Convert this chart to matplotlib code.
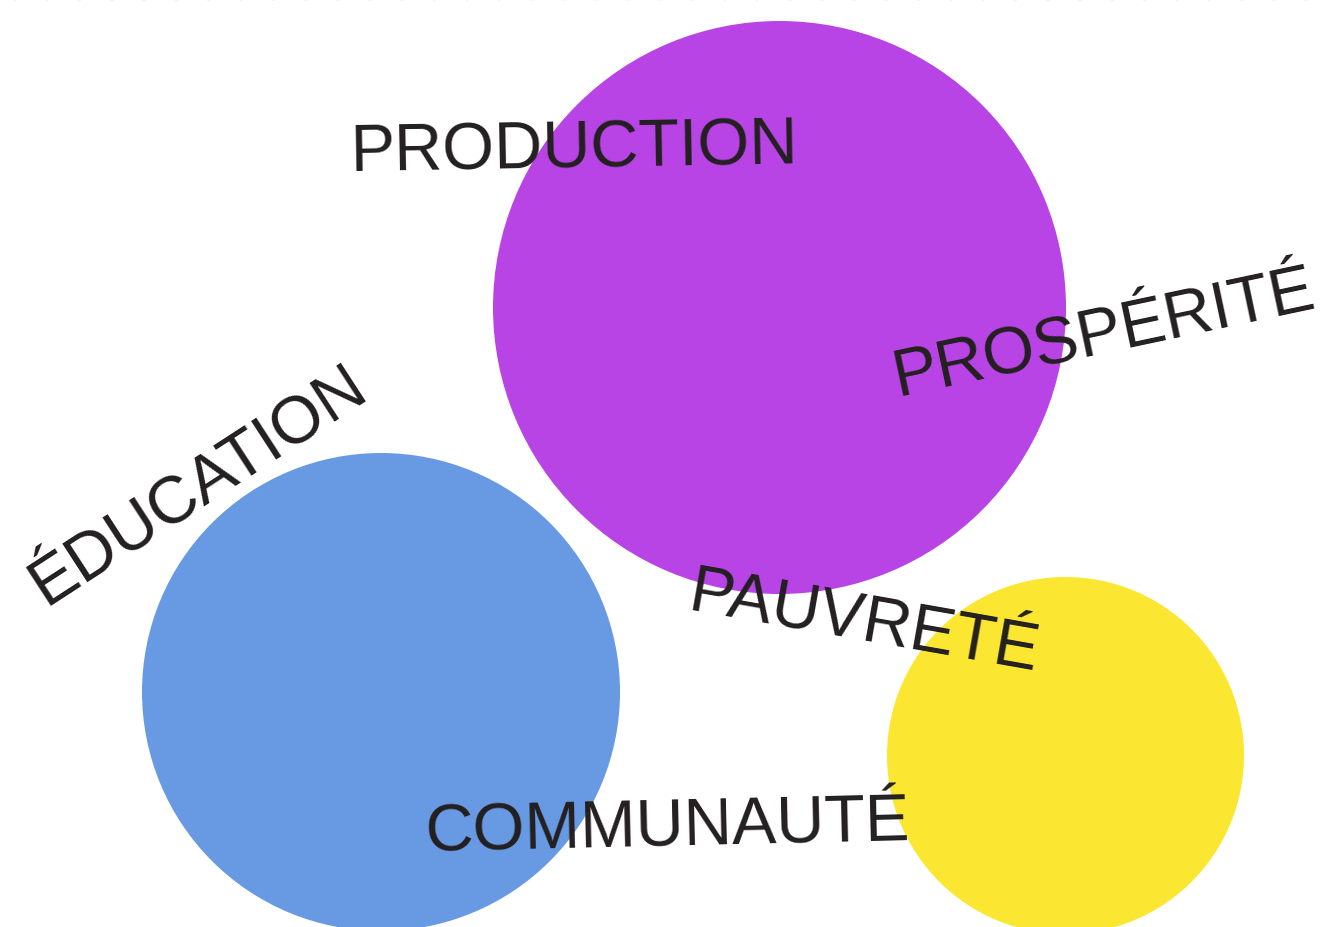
import numpy as np
import matplotlib
matplotlib.use("Agg")
import matplotlib.pyplot as plt
from matplotlib.patches import Circle

# Bubble data (pixel-space coordinates of the reference)
bubble_x = [779.5, 381.0, 1065.5]
bubble_y = [308.5, 693.0, 756.5]
bubble_r = [286.5, 239.0, 178.5]
bubble_colors = ["#b944e6", "#6899e3", "#fbe731"]

# Word labels
words = ["PRODUCTION", "PROSPÉRITÉ", "ÉDUCATION", "PAUVRETÉ", "COMMUNAUTÉ"]
word_x = [574, 1104, 198, 864, 668]
word_y = [151, 334, 486, 624, 828]
word_rot = [1.0, 12.0, 33.0, -10.0, 1.3]

W, H = 1327, 928
fig = plt.figure(figsize=(W / 100, H / 100), dpi=100)
ax = fig.add_axes([0, 0, 1, 1])
ax.set_xlim(0, W)
ax.set_ylim(H, 0)
ax.set_aspect("equal")
ax.axis("off")

for x, y, r, c in zip(bubble_x, bubble_y, bubble_r, bubble_colors):
    ax.add_patch(Circle((x, y), r, facecolor=c, edgecolor="none", zorder=2))

# decorative dotted border at top
for dx in np.linspace(15, 1306, 41):
    ax.add_patch(Circle((dx, -3.5), 5, facecolor="#e4e4e4", edgecolor="none", zorder=1))

for w, x, y, rot in zip(words, word_x, word_y, word_rot):
    ax.text(x, y, w, fontsize=48, family=["Liberation Sans", "DejaVu Sans"],
            color="#231f20", rotation=rot, rotation_mode="anchor",
            ha="center", va="center", zorder=3)

fig.savefig("out.png", dpi=100)
